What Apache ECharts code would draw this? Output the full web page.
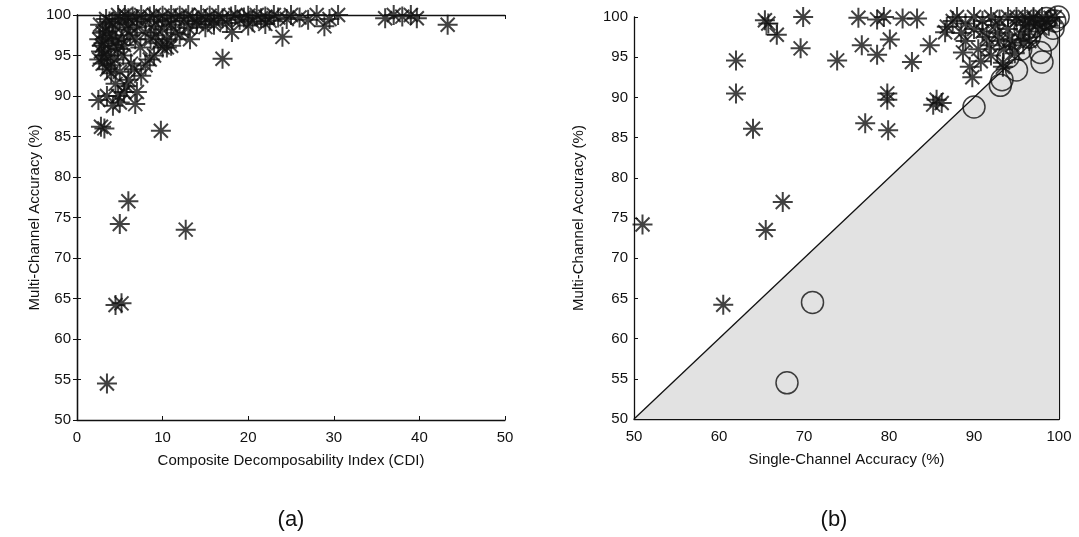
<!DOCTYPE html>
<html><head><meta charset="utf-8">
<script src="https://cdn.jsdelivr.net/npm/echarts@6/dist/echarts.min.js"></script>
<style>html,body{margin:0;padding:0;background:#fff}#c{width:1079px;height:537px}</style>
</head><body><div id="c"></div>
<script>
// Panel (a): [CDI, multi-channel accuracy %]
var cdiStars = [
[2.6,97],[2.8,95.5],[3,94],[3.1,96.5],[3.3,98],[3.5,93.3],[3.6,95],[3.8,99.2],[4,96],[4.2,97.5],
[4.4,94.5],[4.5,98.5],[4.8,95.8],[5,99.5],[5.2,97],[5.5,96.3],[5.8,98.2],[6,99.6],[6.2,97.5],[3,97.8],
[2.7,98.8],[3.4,99.5],[4.1,99],[3.9,93.8],[2.9,96.2],[3.2,95],[4.6,96.8],[5.4,95],[2.6,94.5],[3.7,97.2],
[4,92.8],[4.5,91.5],[5,93],[5.5,90.5],[6,92],[6.3,94],[6.7,93.3],[7,90.5],[7.5,92.5],[6.8,89],
[8,93.8],[8.5,94.5],[9,95],[9.5,96.5],[10,96],[10.5,97],[11,96.2],[13.2,97],[2.5,89.5],[3.5,90],
[4.2,88.8],[5,89.2],[2.8,86.2],[3.2,86],[9.8,85.7],[5.8,91.2],[4.8,90],
[6.5,99.8],[7,99.5],[7.5,100],[8,99.2],[8.5,99.8],[9,100],[9.5,99.4],[10,99.9],[10.5,99.2],[11,100],
[11.5,99.6],[12,99.9],[12.5,99.3],[13,100],[13.5,99.7],[14,99.2],[14.5,100],[15,99.5],[15.5,99.9],[16,99.3],
[16.5,100],[17,99.6],[17.5,99],[18,99.8],[18.5,100],[19,99.4],[19.5,99.7],[20,99.9],[20.5,99.2],[21,100],
[21.5,99.6],[22,99.8],[22.5,99.3],[23,100],[23.5,99.7],[24.5,99.5],[25,100],[26,99.7],[27,99.4],[28,100],
[29.5,99.5],[30.5,100],[7,98.5],[8,97.8],[9,98.6],[10,98.2],[11,98.8],[12,97.6],[13,98.4],[14,98.9],
[15,98.5],[16,98.8],[20,98.7],[22,98.9],[24,97.3],[18.1,97.9],[28.9,98.6],[17,94.6],[36,99.6],[37,100],
[38,99.8],[39,100],[39.7,99.6],[43.3,98.8],[6,98.8],[5.6,100],[4.8,100],[6.8,97],[7.4,96],[8.6,97],
[9.2,97.5],[11.5,97.8],[10.5,96],[12.7,73.5],[6,77],[5,74.2],[4.5,64.2],[5.2,64.4],[3.5,54.5]
];
// Panel (b): [single-channel %, multi-channel %]
var singleStars = [
[51,74.2],[60.5,64.2],[65.5,73.5],[67.5,77],[62,94.6],[62,90.5],[64,86.1],[65.4,99.6],[65.8,99.2],[66.8,97.8],
[69.9,100],[69.6,96.1],[73.9,94.6],[76.8,96.5],[78.6,95.3],[76.4,99.9],[78.6,99.7],[79.4,100],[81.6,99.8],[83.3,99.8],
[80.1,97.2],[82.7,94.4],[79.8,90.5],[79.8,89.7],[77.2,86.8],[79.9,85.9],[84.8,96.5],[85.6,89.7],[86.2,89.3],[85.2,89.1],
[86.6,98.1],[86.8,98.8],[88,100],[88.7,95.6],[89.5,93.8],[89.8,92.5],[89,97],[90,98.5],[90.5,96],[91,99.5],
[91.5,97.5],[92,95.2],[92.5,99],[93,97],[93.4,94.3],[93.4,93.8],[94,98.5],[94.5,96.5],[95,99.6],[95.5,97.8],
[96,99],[96.5,98.2],[97,99.8],[97.5,99.1],[98,100],[98.5,99.5],[99,99.9],[99.5,100],[92,100],[93,99.7],
[94,100],[95,100],[96,100],[97,100],[90,100],[89,99.2],[91,98.2],[93.5,96],[94.8,95.5],[95.8,96.8],
[96.5,97],[92.8,98],[91.8,96.5],[90.8,94.5],[88.5,98],[87.5,99.5],[96.5,99.4],[97.8,98.6],[98.8,98.9],[94.2,97.2]
];
var singleCircles = [
[68,54.5],[71,64.5],[90,88.8],[93.1,91.5],[93.3,92.2],[95,93.4],[98,94.4],[97.8,95.6],[98.6,97.1],[99.3,98.6],
[99.9,100],[99.5,99.5],[96.5,97.5],[97,98.8],[95.5,96],[94,95],[98.5,99.8],[96,98.5]
];
var singleSquares = [[66.2,98.5]];
var diagonal = [[50,50],[100,100]];
var panelLabels = ['(a)','(b)'];

var FONT = 'Liberation Sans, Arial, sans-serif';
var INK = '#111';
var STAR = 'path://M0 10 L20 10 M10 0 L10 20 M3 3 L17 17 M17 3 L3 17';
var lbl = {color:INK, fontFamily:FONT, fontSize:15};
var tickIn = {show:true, inside:true, length:4, lineStyle:{color:INK, width:1}};
var line = {show:true, lineStyle:{color:INK, width:1.3}};
function ax(o){ return Object.assign({type:'value', splitLine:{show:false}, axisLine:line, axisTick:tickIn, axisLabel:lbl,
  nameTextStyle:{color:INK, fontFamily:FONT, fontSize:15}}, o); }

var chart = echarts.init(document.getElementById('c'), null, {renderer:'canvas'});
chart.setOption({
  animation:false,
  grid:[{left:77, top:15, width:428, height:405}, {left:634, top:17, width:425, height:402}],
  xAxis:[
    ax({gridIndex:0, min:0, max:50, interval:10, name:'Composite Decomposability Index (CDI)', nameLocation:'middle', nameGap:33, axisLabel:Object.assign({margin:10},lbl)}),
    ax({gridIndex:0, min:0, max:50, interval:10, position:'top', axisLabel:{show:false}}),
    ax({gridIndex:1, min:50, max:100, interval:10, name:'Single-Channel Accuracy (%)', nameLocation:'middle', nameGap:33, axisLabel:Object.assign({margin:10},lbl)})
  ],
  yAxis:[
    ax({gridIndex:0, min:50, max:100, interval:5, name:'Multi-Channel Accuracy (%)', nameLocation:'middle', nameGap:25, axisLabel:Object.assign({margin:6},lbl)}),
    ax({gridIndex:0, min:50, max:100, interval:5, position:'right', axisLabel:{show:false}}),
    ax({gridIndex:1, min:50, max:100, interval:5, name:'Multi-Channel Accuracy (%)', nameLocation:'middle', nameGap:48, axisLabel:Object.assign({margin:6},lbl)}),
    ax({gridIndex:1, min:50, max:100, interval:5, position:'right', axisLabel:{show:false}, axisTick:{show:false}, axisLine:{show:true, lineStyle:{color:INK, width:2.2}}})
  ],
  series:[
    {type:'line', xAxisIndex:2, yAxisIndex:2, data:diagonal, symbol:'none', lineStyle:{color:INK, width:1.3},
     areaStyle:{color:'#e2e2e2', opacity:1, origin:'start'}, z:1},
    {type:'scatter', xAxisIndex:0, yAxisIndex:0, data:cdiStars, symbol:STAR, symbolSize:20,
     itemStyle:{color:'none', borderColor:INK, borderWidth:2}},
    {type:'scatter', xAxisIndex:2, yAxisIndex:2, data:singleStars, symbol:STAR, symbolSize:20,
     itemStyle:{color:'none', borderColor:INK, borderWidth:2}},
    {type:'scatter', xAxisIndex:2, yAxisIndex:2, data:singleCircles, symbol:'circle', symbolSize:22,
     itemStyle:{color:'none', borderColor:INK, borderWidth:1.5}},
    {type:'scatter', xAxisIndex:2, yAxisIndex:2, data:singleSquares, symbol:'rect', symbolSize:11,
     itemStyle:{color:'none', borderColor:INK, borderWidth:1.3}}
  ],
  graphic:[
    {type:'text', x:291, y:509, style:{text:panelLabels[0], fill:INK, font:'22px '+FONT, textAlign:'center'}},
    {type:'text', x:834, y:509, style:{text:panelLabels[1], fill:INK, font:'22px '+FONT, textAlign:'center'}}
  ]
});
</script></body></html>
